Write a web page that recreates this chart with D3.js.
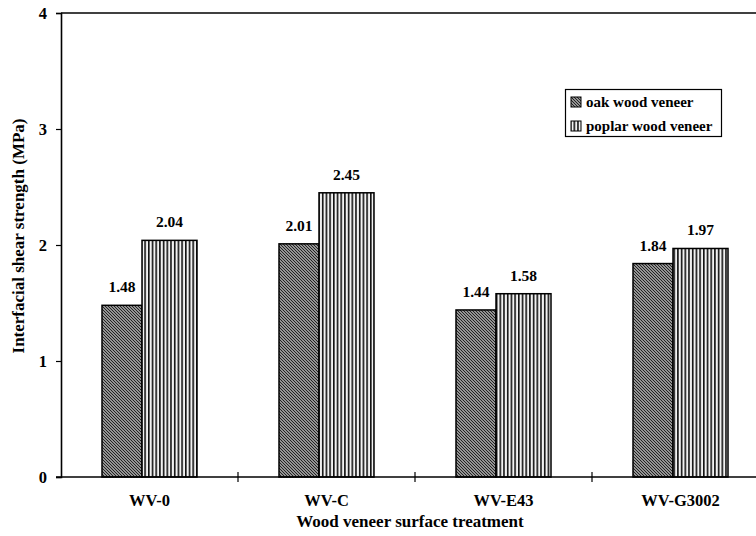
<!DOCTYPE html>
<html>
<head>
<meta charset="utf-8">
<script src="https://cdn.jsdelivr.net/npm/d3@7/dist/d3.min.js"></script>
<style>
  html, body { margin: 0; padding: 0; background: #fff; }
  svg { display: block; }
</style>
</head>
<body>
<svg id="chart" width="756" height="536" font-family="Liberation Serif" font-weight="bold"></svg>
<script>
// ---- data ----
const categories = ["WV-0", "WV-C", "WV-E43", "WV-G3002"];
const seriesNames = ["oak wood veneer", "poplar wood veneer"];
const oakValues = [1.48, 2.01, 1.44, 1.84];
const poplarValues = [2.04, 2.45, 1.58, 1.97];
const yTicks = [0, 1, 2, 3, 4];
const xTitle = "Wood veneer surface treatment";
const yTitle = "Interfacial shear strength (MPa)";

const seriesValues = [oakValues, poplarValues];
const FONT = "Liberation Serif";

// ---- layout ----
const svg = d3.select("#chart");
const W = 756, H = 536;
const mLeft = 61, mTop = 13, mBottom = 477, mRight = 769;

const x = d3.scaleBand().domain(categories).range([mLeft, mRight]).padding(0);
const y = d3.scaleLinear().domain([0, 4]).range([mBottom, mTop]);

function styleText(sel, size) {
  return sel.attr("font-family", FONT).attr("font-weight", "bold").attr("font-size", size).attr("fill", "#000");
}

// patterns
const defs = svg.append("defs");
const pOak = defs.append("pattern").attr("id", "oak").attr("patternUnits", "userSpaceOnUse")
  .attr("width", 3).attr("height", 3);
pOak.append("rect").attr("width", 3).attr("height", 3).attr("fill", "#c4c4c4");
pOak.append("path").attr("d", "M0,0 L3,3 M-1,2 L1,4 M2,-1 L4,1")
  .attr("stroke", "#1a1a1a").attr("stroke-width", 1.1);

const pPop = defs.append("pattern").attr("id", "poplar").attr("patternUnits", "userSpaceOnUse")
  .attr("width", 3.7).attr("height", 8);
pPop.append("rect").attr("width", 3.7).attr("height", 8).attr("fill", "#f2f2f2");
pPop.append("rect").attr("x", 0).attr("width", 1.6).attr("height", 8).attr("fill", "#111");

const fills = ["url(#oak)", "url(#poplar)"];

// bar geometry (fractions of band)
const groupStartFrac = 41 / 177;
const widthFrac = [40 / 177, 55 / 177];
function barX(cat, si) {
  let start = x(cat) + groupStartFrac * x.bandwidth();
  for (let k = 0; k < si; k++) start += widthFrac[k] * x.bandwidth();
  return start;
}

// plot border (top)
svg.append("line").attr("x1", mLeft).attr("x2", W).attr("y1", mTop).attr("y2", mTop)
  .attr("stroke", "#000").attr("stroke-width", 1.6);

// bars
seriesValues.forEach((vals, si) => {
  svg.append("g").selectAll("rect").data(categories).join("rect")
    .attr("x", d => barX(d, si))
    .attr("width", widthFrac[si] * x.bandwidth())
    .attr("y", (d, i) => y(vals[i]))
    .attr("height", (d, i) => y(0) - y(vals[i]))
    .attr("fill", fills[si])
    .attr("stroke", "#000").attr("stroke-width", 1.5);
  styleText(svg.append("g").selectAll("text").data(categories).join("text")
    .attr("x", d => barX(d, si) + widthFrac[si] * x.bandwidth() / 2)
    .attr("y", (d, i) => y(vals[i]) - 13)
    .attr("text-anchor", "middle")
    .text((d, i) => vals[i].toFixed(2)), 15.5);
});

// y axis
const yAxis = d3.axisLeft(y).tickValues(yTicks).tickFormat(d3.format("d")).tickSize(5).tickPadding(9);
const gy = svg.append("g").attr("transform", `translate(${mLeft},0)`).call(yAxis)
  .attr("font-family", FONT);
gy.select(".domain").attr("stroke", "#000").attr("stroke-width", 1.6);
gy.selectAll(".tick line").attr("stroke", "#000").attr("stroke-width", 1.2);
styleText(gy.selectAll(".tick text"), 16.5);

// x axis
const xAxis = d3.axisBottom(x).tickSize(0).tickPadding(17);
const gx = svg.append("g").attr("transform", `translate(0,${mBottom})`).call(xAxis)
  .attr("font-family", FONT);
gx.select(".domain").remove();
styleText(gx.selectAll(".tick text"), 16.5);
svg.append("line").attr("x1", mLeft - 5).attr("x2", W).attr("y1", mBottom).attr("y2", mBottom)
  .attr("stroke", "#000").attr("stroke-width", 1.6);
// category separator ticks
svg.append("g").selectAll("line").data(categories.slice(1)).join("line")
  .attr("x1", d => x(d)).attr("x2", d => x(d))
  .attr("y1", mBottom - 5).attr("y2", mBottom + 5)
  .attr("stroke", "#000").attr("stroke-width", 1.2);

// titles
styleText(svg.append("text").attr("x", 410).attr("y", 527).attr("text-anchor", "middle")
  .text(xTitle), 17);
styleText(svg.append("text").attr("transform", "translate(24,236) rotate(-90)").attr("text-anchor", "middle")
  .text(yTitle), 17);

// legend
const lg = svg.append("g");
lg.append("rect").attr("x", 565.5).attr("y", 89.5).attr("width", 156).attr("height", 47)
  .attr("fill", "#fff").attr("stroke", "#000").attr("stroke-width", 1.2);
seriesNames.forEach((name, i) => {
  const cy = 102 + i * 24;
  lg.append("rect").attr("x", 571).attr("y", cy - 5).attr("width", 10).attr("height", 10)
    .attr("fill", fills[i]).attr("stroke", "#000").attr("stroke-width", 1);
  styleText(lg.append("text").attr("x", 586).attr("y", cy + 5).text(name), 15);
});
</script>
</body>
</html>
